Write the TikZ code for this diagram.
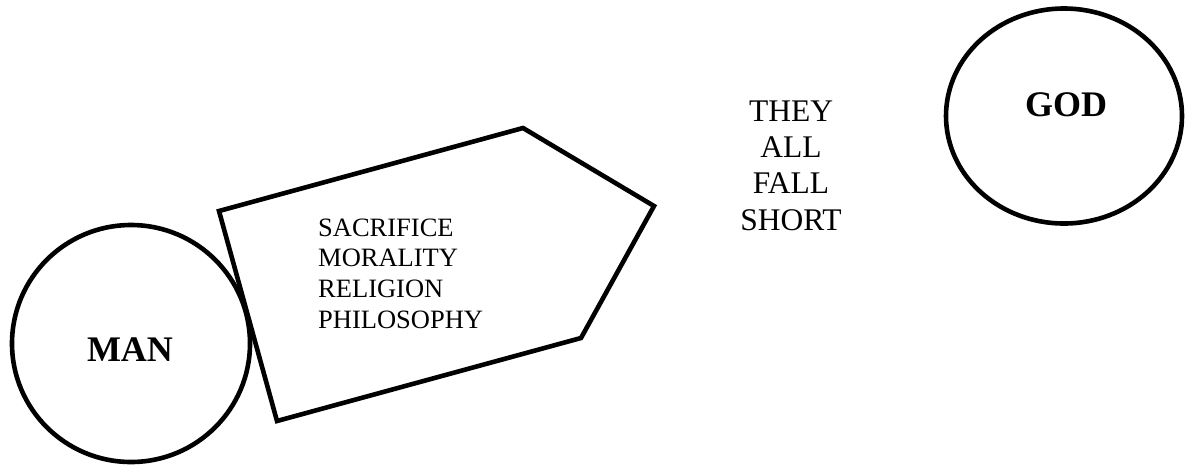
\documentclass[tikz,border=0pt]{standalone}
\usepackage{fontspec}
\setmainfont{Liberation Serif}
\usetikzlibrary{shapes.geometric}
\tikzset{
  shapeline/.style={draw=black, line width=4.6pt},
  bigcircle/.style={shapeline, ellipse, inner sep=0pt},
  bigword/.style={font=\fontsize{36}{40}\selectfont\bfseries, anchor=base, inner sep=0pt},
}
\begin{document}
\begin{tikzpicture}[x=1pt, y=-1pt]
\useasboundingbox (0,0) rectangle (1185,467);
% circles
\node[bigcircle, minimum width=238pt, minimum height=237pt] (man) at (131,343.5) {};
\node[bigcircle, minimum width=236pt, minimum height=215pt] (god) at (1064,116) {};
\node[bigword] (mantext) at (130,361.7) {MAN};
\node[bigword] (godtext) at (1066,116) {GOD};
% pentagon
\coordinate (p1) at (219,211);
\coordinate (p2) at (523,128);
\coordinate (p3) at (654,206);
\coordinate (p4) at (581,338);
\coordinate (p5) at (277,421);
\draw[shapeline, line join=miter] (p1) -- (p2) -- (p3) -- (p4) -- (p5) -- cycle;
\node[anchor=base west, inner sep=0pt, font=\fontsize{26.5}{30.7}\selectfont] (list) at (318,236)
  {\begin{tabular}[t]{@{}l@{}}SACRIFICE\\MORALITY\\RELIGION\\PHILOSOPHY\end{tabular}};
\node[anchor=base, inner sep=0pt, font=\fontsize{31.5}{36.1}\selectfont] (short) at (791,121.7)
  {\begin{tabular}[t]{@{}c@{}}THEY\\ALL\\FALL\\SHORT\end{tabular}};
\end{tikzpicture}
\end{document}
